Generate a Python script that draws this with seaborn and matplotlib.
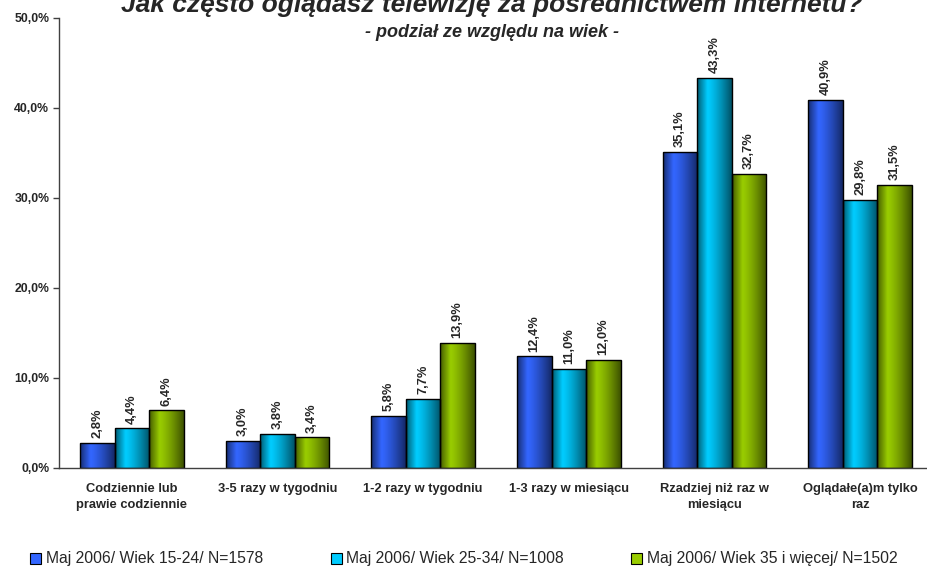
import numpy as np
import pandas as pd
import matplotlib
matplotlib.use("Agg")
import matplotlib.pyplot as plt
import seaborn as sns
from matplotlib.patches import Patch
from matplotlib.colors import to_rgb

kategorie = ["Codziennie lub\nprawie codziennie", "3-5 razy w tygodniu", "1-2 razy w tygodniu",
             "1-3 razy w miesiącu", "Rzadziej niż raz w\nmiesiącu", "Oglądałe(a)m tylko\nraz"]
serie = ["Maj 2006/ Wiek 15-24/ N=1578", "Maj 2006/ Wiek 25-34/ N=1008",
         "Maj 2006/ Wiek 35 i więcej/ N=1502"]
wiek_15_24 = [2.8, 3.0, 5.8, 12.4, 35.1, 40.9]
wiek_25_34 = [4.4, 3.8, 7.7, 11.0, 43.3, 29.8]
wiek_35_plus = [6.4, 3.4, 13.9, 12.0, 32.7, 31.5]
kolory = ["#3366ff", "#00ccff", "#99cc00"]
y_ticks = [0, 10, 20, 30, 40, 50]

wartosci = [wiek_15_24, wiek_25_34, wiek_35_plus]
df = pd.DataFrame({
    "kategoria": kategorie * 3,
    "seria": [s for s in serie for _ in kategorie],
    "procent": [v for lista in wartosci for v in lista],
})

sns.set_style("white")
plt.rcParams["font.family"] = ["Liberation Sans", "DejaVu Sans"]

fig = plt.figure(figsize=(9.28, 5.69), dpi=100)
ax = fig.add_axes([59 / 928, 101 / 569, 874 / 928, 450 / 569])

sns.barplot(data=df, x="kategoria", y="procent", hue="seria", order=kategorie, hue_order=serie,
            palette=dict(zip(serie, kolory)), width=0.71, gap=0, edgecolor="black", linewidth=1,
            legend=False, ax=ax)

# gradient na slupkach (ciemne brzegi, jasny srodek)
t = np.linspace(0, 1, 64)
profil = np.where(t < 0.3, 0.45 + 0.55 * (t / 0.3), 1.0 - 0.6 * ((t - 0.3) / 0.7) ** 1.3)
for kont, kol in zip(ax.containers, kolory):
    rgb = np.array(to_rgb(kol))
    grad = np.clip(profil[:, None] * rgb[None, :], 0, 1)[None, :, :]
    for p in kont.patches:
        x0, w, h = p.get_x(), p.get_width(), p.get_height()
        im = ax.imshow(grad, extent=[x0, x0 + w, 0, h], aspect="auto", zorder=p.get_zorder(),
                       interpolation="bilinear")
        im.set_clip_path(p)
        p.set_facecolor("none")
        p.set_zorder(p.get_zorder() + 0.1)
    etyk = [f"{v:.1f}%".replace(".", ",") for v in kont.datavalues]
    ax.bar_label(kont, labels=etyk, rotation=90, padding=3.5, fontsize=9.3, fontweight="bold")

ax.set_xlim(-0.5, 5.5)
ax.set_ylim(0, 50)
ax.set_yticks(y_ticks)
ax.set_yticklabels([f"{v:.1f}%".replace(".", ",") for v in y_ticks], fontsize=8.8, fontweight="bold")
ax.set_xticks(range(len(kategorie)))
ax.set_xticklabels(kategorie, fontsize=9.3, fontweight="bold", linespacing=1.45)
ax.set_xticks(np.arange(0.5, 5.5, 1), minor=True)
ax.tick_params(axis="x", which="major", length=0, pad=11)
ax.tick_params(axis="x", which="minor", length=5, width=1, color="#404040", direction="out")
ax.tick_params(axis="y", length=4, width=1, color="#404040", direction="out", pad=3, left=True)
ax.set_xlabel("")
ax.set_ylabel("")
for s in ["top", "right"]:
    ax.spines[s].set_visible(False)
for s in ["left", "bottom"]:
    ax.spines[s].set_color("#404040")
    ax.spines[s].set_linewidth(1)

fig.text(0.53, 1 - 12 / 569, "Jak często oglądasz telewizję za pośrednictwem internetu?",
         ha="center", va="baseline", fontsize=19, fontweight="bold", style="italic")
fig.text(0.53, 1 - 37 / 569, "- podział ze względu na wiek -",
         ha="center", va="baseline", fontsize=13, fontweight="bold", style="italic")

uchwyty = [Patch(facecolor=k, edgecolor="black", linewidth=0.8) for k in kolory]
fig.legend(uchwyty, serie, loc="center", bbox_to_anchor=(0.5, 1 - 559 / 569), ncol=3,
           frameon=False, fontsize=11.3, handlelength=0.7, handleheight=0.7, handletextpad=0.3,
           columnspacing=4.3)

fig.savefig("out.png", dpi=100)
